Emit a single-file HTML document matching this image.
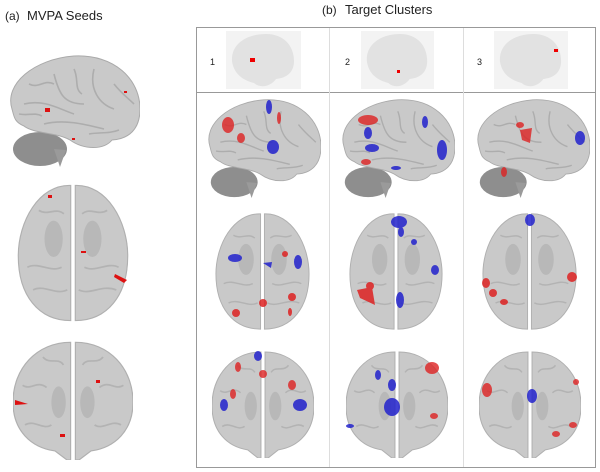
<!DOCTYPE html>
<html><head><meta charset="utf-8"><style>
body{margin:0;background:#fff;width:600px;height:472px;overflow:hidden}
svg{display:block}
text{font-family:"Liberation Sans",sans-serif;fill:#222}
</style></head><body>
<svg width="600" height="472" viewBox="0 0 600 472" xmlns="http://www.w3.org/2000/svg">
<defs>
<symbol id="lat" viewBox="0 0 136 113" preserveAspectRatio="none">
 <ellipse cx="36" cy="95" rx="27" ry="17" fill="#8e8e8e"/>
 <path d="M50,95 L56,113 L62,96 Z" fill="#9a9a9a"/>
 <path d="M8,55 C0,30 30,5 70,2 C110,0 136,25 136,55 C136,75 125,85 108,86 C100,96 80,96 66,86 C52,78 30,80 20,72 C10,68 10,62 8,55 Z" fill="#c9c9c9" stroke="#aaa" stroke-width="1"/>
 <path d="M20,50 C40,45 55,55 70,60 M50,20 C55,40 60,50 80,50 M90,15 C85,35 95,50 110,55 M40,70 C60,65 80,70 100,75 M25,30 C35,35 40,25 50,30 M70,15 C75,25 70,35 78,40 M110,30 C118,40 125,45 130,50 M15,60 C25,62 30,58 38,62 M85,80 C95,78 105,80 115,76" stroke="#adadad" stroke-width="1.6" fill="none"/>
</symbol>
<symbol id="top" viewBox="0 0 100 125" preserveAspectRatio="none">
 <path d="M48,3 C20,2 2,35 2,65 C2,100 20,122 48,122 Z" fill="#c9c9c9" stroke="#b0b0b0"/>
 <path d="M52,3 C80,2 98,35 98,65 C98,100 80,122 52,122 Z" fill="#c9c9c9" stroke="#b0b0b0"/>
 <ellipse cx="33" cy="50" rx="8" ry="16" fill="#b8b8b8"/><ellipse cx="67" cy="50" rx="8" ry="16" fill="#b8b8b8"/>
 <path d="M10,75 C20,70 30,80 40,75 M60,75 C70,80 80,70 90,75 M15,95 C25,90 35,100 45,95 M55,95 C65,100 75,90 88,95 M20,25 C28,30 35,22 42,28 M58,28 C65,22 72,30 80,25" stroke="#b3b3b3" stroke-width="1.5" fill="none"/>
</symbol>
<symbol id="frt" viewBox="0 0 100 106" preserveAspectRatio="none">
 <path d="M48,2 C20,2 0,25 0,55 C0,80 15,95 35,98 L45,106 L48,106 Z" fill="#c9c9c9" stroke="#b0b0b0"/>
 <path d="M52,2 C80,2 100,25 100,55 C100,80 85,95 65,98 L55,106 L52,106 Z" fill="#c9c9c9" stroke="#b0b0b0"/>
 <ellipse cx="38" cy="55" rx="6" ry="14" fill="#b8b8b8"/><ellipse cx="62" cy="55" rx="6" ry="14" fill="#b8b8b8"/>
 <path d="M8,40 C15,45 20,35 28,42 M72,42 C80,35 85,45 92,40 M10,75 C18,70 25,80 32,75 M68,75 C75,80 82,70 90,75 M25,15 C30,22 38,15 42,22 M58,22 C62,15 70,22 75,15" stroke="#b3b3b3" stroke-width="1.5" fill="none"/>
</symbol>
<symbol id="thumb" viewBox="0 0 75 58" preserveAspectRatio="none">
 <rect width="75" height="58" fill="#f3f3f3"/>
 <path d="M6,30 C5,12 22,3 40,3 C58,3 68,15 68,30 C68,42 60,47 50,48 C45,55 35,58 28,52 C20,50 8,45 6,30 Z" fill="#e2e2e2"/>
</symbol>
</defs>
<text x="5" y="20" font-size="12">(a)</text><text x="27" y="20" font-size="13">MVPA Seeds</text>
<text x="322" y="14" font-size="12">(b)</text><text x="345" y="14" font-size="13">Target Clusters</text>

<rect x="196.5" y="27.5" width="399" height="440" fill="none" stroke="#999"/>
<line x1="196" y1="92.5" x2="596" y2="92.5" stroke="#999"/>
<line x1="329.5" y1="28" x2="329.5" y2="467" stroke="#ddd"/>
<line x1="463.5" y1="28" x2="463.5" y2="467" stroke="#ddd"/>

<use href="#thumb" x="226" y="31" width="75" height="58"/>
<use href="#thumb" x="361" y="31" width="73" height="58"/>
<use href="#thumb" x="494" y="31" width="74" height="58"/>
<text x="210" y="65" font-size="9">1</text><text x="345" y="65" font-size="9">2</text><text x="477" y="65" font-size="9">3</text>
<g fill="#e00"><rect x="250" y="58" width="5" height="4"/><rect x="397" y="70" width="3" height="3"/><rect x="554" y="49" width="4" height="3"/></g>

<use href="#lat" x="4" y="54" width="136" height="113"/>
<use href="#top" x="16" y="182" width="114" height="142"/>
<use href="#frt" x="13" y="340" width="120" height="120"/>
<g fill="#d11">
<rect x="45" y="108" width="5" height="4"/><rect x="72" y="138" width="3" height="2"/><rect x="124" y="91" width="3" height="2"/>
<rect x="48" y="195" width="4" height="3"/><rect x="81" y="251" width="5" height="2"/><path d="M115,274 L127,280 L124,283 L114,277Z"/>
<rect x="96" y="380" width="4" height="3"/><path d="M15,400 L28,404 L15,405Z"/><rect x="60" y="434" width="5" height="3"/>
</g>

<use href="#lat" x="203" y="98" width="118" height="100"/>
<use href="#lat" x="337" y="98" width="118" height="100"/>
<use href="#lat" x="472" y="98" width="118" height="100"/>
<g fill="#d22" opacity="0.8">
<ellipse cx="228" cy="125" rx="6" ry="8"/><ellipse cx="241" cy="138" rx="4" ry="5"/><ellipse cx="279" cy="118" rx="2" ry="6"/>
<ellipse cx="368" cy="120" rx="10" ry="5"/><ellipse cx="366" cy="162" rx="5" ry="3"/>
<path d="M520,130 L532,128 L530,143 L522,140Z"/><ellipse cx="520" cy="125" rx="4" ry="3"/><ellipse cx="504" cy="172" rx="3" ry="5"/>
</g>
<g fill="#22c" opacity="0.85">
<ellipse cx="269" cy="107" rx="3" ry="7"/><ellipse cx="273" cy="147" rx="6" ry="7"/>
<ellipse cx="368" cy="133" rx="4" ry="6"/><ellipse cx="372" cy="148" rx="7" ry="4"/><ellipse cx="425" cy="122" rx="3" ry="6"/><ellipse cx="442" cy="150" rx="5" ry="10"/><ellipse cx="396" cy="168" rx="5" ry="2"/>
<ellipse cx="580" cy="138" rx="5" ry="7"/>
</g>

<use href="#top" x="214" y="211" width="97" height="121"/>
<use href="#top" x="348" y="211" width="96" height="121"/>
<use href="#top" x="481" y="211" width="97" height="121"/>
<g fill="#d22" opacity="0.85">
<ellipse cx="285" cy="254" rx="3" ry="3"/><ellipse cx="263" cy="303" rx="4" ry="4"/><ellipse cx="292" cy="297" rx="4" ry="4"/><ellipse cx="236" cy="313" rx="4" ry="4"/><ellipse cx="290" cy="312" rx="2" ry="4"/>
<path d="M357,290 L372,287 L375,305 L360,298Z"/><ellipse cx="370" cy="286" rx="4" ry="4"/>
<ellipse cx="486" cy="283" rx="4" ry="5"/><ellipse cx="572" cy="277" rx="5" ry="5"/><ellipse cx="493" cy="293" rx="4" ry="4"/><ellipse cx="504" cy="302" rx="4" ry="3"/>
</g>
<g fill="#22c" opacity="0.85">
<ellipse cx="235" cy="258" rx="7" ry="4"/><ellipse cx="298" cy="262" rx="4" ry="7"/><path d="M263,263 L272,262 L271,268Z"/>
<ellipse cx="399" cy="222" rx="8" ry="6"/><ellipse cx="401" cy="232" rx="3" ry="5"/><ellipse cx="414" cy="242" rx="3" ry="3"/><ellipse cx="400" cy="300" rx="4" ry="8"/><ellipse cx="435" cy="270" rx="4" ry="5"/>
<ellipse cx="530" cy="220" rx="5" ry="6"/>
</g>

<use href="#frt" x="212" y="350" width="102" height="108"/>
<use href="#frt" x="346" y="350" width="102" height="108"/>
<use href="#frt" x="479" y="350" width="102" height="108"/>
<g fill="#d22" opacity="0.8">
<ellipse cx="238" cy="367" rx="3" ry="5"/><ellipse cx="233" cy="394" rx="3" ry="5"/><ellipse cx="263" cy="374" rx="4" ry="4"/><ellipse cx="292" cy="385" rx="4" ry="5"/>
<ellipse cx="432" cy="368" rx="7" ry="6"/><ellipse cx="434" cy="416" rx="4" ry="3"/>
<ellipse cx="487" cy="390" rx="5" ry="7"/><ellipse cx="576" cy="382" rx="3" ry="3"/><ellipse cx="573" cy="425" rx="4" ry="3"/><ellipse cx="556" cy="434" rx="4" ry="3"/>
</g>
<g fill="#22c" opacity="0.85">
<ellipse cx="258" cy="356" rx="4" ry="5"/><ellipse cx="224" cy="405" rx="4" ry="6"/><ellipse cx="300" cy="405" rx="7" ry="6"/>
<ellipse cx="378" cy="375" rx="3" ry="5"/><ellipse cx="392" cy="385" rx="4" ry="6"/><ellipse cx="392" cy="407" rx="8" ry="9"/><ellipse cx="350" cy="426" rx="4" ry="2"/>
<ellipse cx="532" cy="396" rx="5" ry="7"/>
</g>
</svg>
</body></html>
